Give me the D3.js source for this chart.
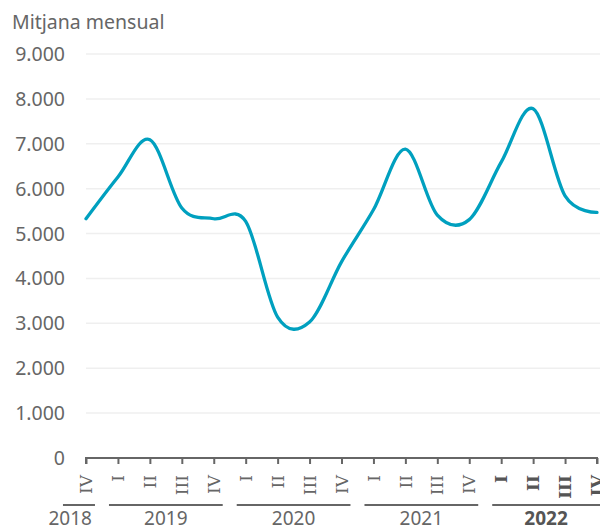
<!DOCTYPE html>
<html>
<head>
<meta charset="utf-8">
<script src="https://cdn.jsdelivr.net/npm/d3@7"></script>
<style>
  html, body { margin: 0; padding: 0; background: #fff; }
  svg { display: block; }
  text { font-family: "Noto Sans", "Open Sans", sans-serif; }
</style>
</head>
<body>
<svg id="chart" width="600" height="527"></svg>
<script>
// ---- data ----
const quarters = ["IV","I","II","III","IV","I","II","III","IV","I","II","III","IV","I","II","III","IV"];
const years    = [2018,2019,2019,2019,2019,2020,2020,2020,2020,2021,2021,2021,2021,2022,2022,2022,2022];
const values   = [5330,6260,7090,5570,5330,5270,3140,3030,4370,5530,6880,5410,5310,6590,7780,5840,5470];
const yTicks   = [0,1000,2000,3000,4000,5000,6000,7000,8000,9000];
const yearGroups = [2018,2019,2020,2021,2022];
const highlightYear = 2022;
const title = "Mitjana mensual";

// ---- setup ----
const svg = d3.select("#chart");
const keys = quarters.map((q, i) => years[i] + "-" + i);
const x = d3.scalePoint().domain(keys).range([86, 597]);
const y = d3.scaleLinear().domain([0, 9000]).range([458, 54]);
const loc = d3.formatLocale({decimal: ",", thousands: ".", grouping: [3], currency: ["", "€"]});
const fmt = loc.format(",d");

// title
svg.append("text")
  .attr("x", 12).attr("y", 29)
  .attr("fill", "#666")
  .style("font-size", "19.5px")
  .text(title);

// gridlines
svg.append("g")
  .selectAll("line")
  .data(yTicks.filter(d => d > 0))
  .join("line")
  .attr("x1", 86).attr("x2", 600)
  .attr("y1", d => y(d)).attr("y2", d => y(d))
  .attr("stroke", "#efefef").attr("stroke-width", 1.5);

// y labels
svg.append("g")
  .selectAll("text")
  .data(yTicks)
  .join("text")
  .attr("x", 65).attr("y", d => y(d))
  .attr("dy", "0.36em")
  .attr("text-anchor", "end")
  .attr("fill", "#666")
  .style("font-size", "19.5px")
  .text(d => fmt(d));

// x axis
const xAxis = d3.axisBottom(x).tickSize(6).tickFormat("");
const gx = svg.append("g").attr("transform", `translate(0,${y(0)})`).call(xAxis);
gx.select(".domain").attr("stroke", "#666").attr("stroke-width", 2)
  .attr("d", `M${x(keys[0])},6V0H${x(keys[keys.length-1])}V6`);
gx.selectAll(".tick line").attr("stroke", "#666").attr("stroke-width", 2);

// quarter labels (rotated)
svg.append("g")
  .selectAll("text")
  .data(keys)
  .join("text")
  .attr("transform", d => `translate(${x(d)},475) rotate(-90)`)
  .attr("dy", "0.36em")
  .attr("text-anchor", "end")
  .attr("fill", (d, i) => years[i] === highlightYear ? "#555" : "#666")
  .style("font-family", "'DejaVu Serif', serif")
  .style("font-size", "17px")
  .style("font-weight", (d, i) => years[i] === highlightYear ? "bold" : "normal")
  .text((d, i) => quarters[i]);

// year groups
const half = (x(keys[1]) - x(keys[0])) / 2;
yearGroups.forEach(yr => {
  const idx = years.map((v, i) => v === yr ? i : -1).filter(i => i >= 0);
  const xs = x(keys[idx[0]]), xe = x(keys[idx[idx.length - 1]]);
  let x1 = xs - half + 7, x2 = Math.min(xe + half - 7, 600);
  let tx = (x1 + x2) / 2, anchor = "middle";
  if (idx.length === 1) { x1 = x2 - 32; tx = x2 - 3; anchor = "end"; }
  svg.append("line")
    .attr("x1", x1).attr("x2", x2).attr("y1", 505).attr("y2", 505)
    .attr("stroke", "#666").attr("stroke-width", 2);
  svg.append("text")
    .attr("x", tx).attr("y", 525)
    .attr("text-anchor", anchor)
    .attr("fill", yr === highlightYear ? "#555" : "#666")
    .style("font-size", "19px")
    .style("font-weight", yr === highlightYear ? "bold" : "normal")
    .text(yr);
});

// line
const line = d3.line()
  .x((d, i) => x(keys[i]))
  .y(d => y(d))
  .curve(d3.curveCardinal.tension(0));
svg.append("path")
  .datum(values)
  .attr("d", line)
  .attr("fill", "none")
  .attr("stroke", "#00a0bf")
  .attr("stroke-width", 3.3)
  .attr("stroke-linecap", "round");
</script>
</body>
</html>
